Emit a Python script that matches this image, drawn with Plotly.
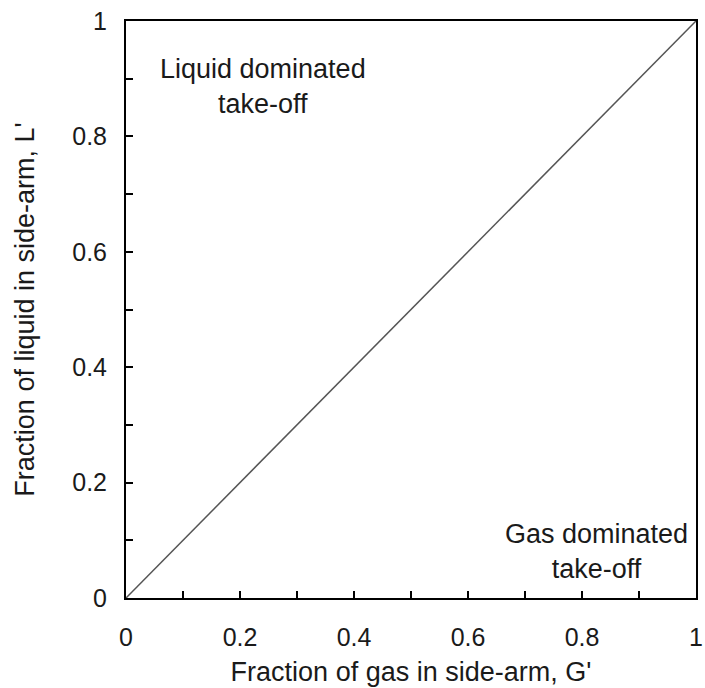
import plotly.graph_objects as go

line_x = [0, 1]
line_y = [0, 1]
tick_vals = [0, 0.2, 0.4, 0.6, 0.8, 1]
tick_text = ["0", "0.2", "0.4", "0.6", "0.8", "1"]
labels = ["Liquid dominated<br>take-off", "Gas dominated<br>take-off"]
label_x = [0.24, 0.825]
label_y = [0.886, 0.081]

FONT = "Liberation Sans, Arial"
TXT = "#1a1a1a"

fig = go.Figure()
fig.add_trace(go.Scatter(x=line_x, y=line_y, mode="lines",
                         line=dict(color="#555555", width=1.5), showlegend=False))

for t, x, y in zip(labels, label_x, label_y):
    fig.add_annotation(x=x, y=y, text=t, showarrow=False,
                       font=dict(family=FONT, size=27, color=TXT))

axis_common = dict(
    range=[0, 1], tickvals=tick_vals, ticktext=tick_text,
    ticks="inside", ticklen=7, tickwidth=1.5, tickcolor="black",
    minor=dict(dtick=0.1, ticks="inside", ticklen=7, tickwidth=1.5, tickcolor="black"),
    showline=True, linecolor="black", linewidth=2, mirror=True,
    showgrid=False, zeroline=False, ticklabeloverflow="allow", automargin=False,
    tickfont=dict(family=FONT, size=25, color=TXT),
)

fig.update_xaxes(**axis_common, ticklabelstandoff=16,
                 title=dict(text="Fraction of gas in side-arm, G'",
                            font=dict(family=FONT, size=27, color=TXT),
                            standoff=12))
fig.update_yaxes(**axis_common, ticklabelstandoff=12,
                 title=dict(text="Fraction of liquid in side-arm, L'",
                            font=dict(family=FONT, size=27, color=TXT),
                            standoff=30))

fig.update_layout(width=705, height=688, margin=dict(l=126, r=9, t=21, b=90),
                  plot_bgcolor="white", paper_bgcolor="white")
fig.write_html("out.html")
